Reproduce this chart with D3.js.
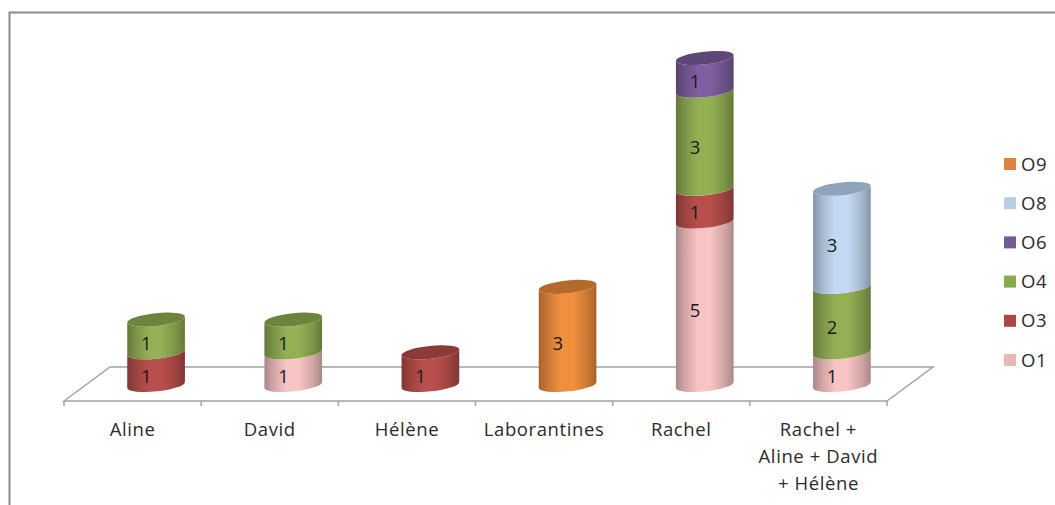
<!DOCTYPE html>
<html>
<head>
<meta charset="utf-8">
<script src="https://cdn.jsdelivr.net/npm/d3@7"></script>
<style>
  html, body { margin: 0; padding: 0; background: #fff; overflow: hidden; }
  text { font-family: "Open Sans", sans-serif; letter-spacing: 0.6px; }
</style>
</head>
<body>
<div id="container"></div>
<script>
/* DATA */
const categories = ["Aline", "David", "Hélène", "Laborantines", "Rachel", "Rachel + Aline + David + Hélène"]
const categoryLines = [["Aline"], ["David"], ["Hélène"], ["Laborantines"], ["Rachel"], ["Rachel +", "Aline + David", "+ Hélène"]]
const seriesNames = ["O1", "O3", "O4", "O6", "O8", "O9"]
const o1 = [0, 1, 0, 0, 5, 1]
const o3 = [1, 0, 1, 0, 1, 0]
const o4 = [1, 1, 0, 0, 3, 2]
const o6 = [0, 0, 0, 0, 1, 0]
const o8 = [0, 0, 0, 0, 0, 3]
const o9 = [0, 0, 0, 3, 0, 0]
const seriesValues = [o1, o3, o4, o6, o8, o9]
const sideColors = ["#f8c4c4", "#b94f4c", "#93b055", "#7f5f9f", "#c3d9f3", "#f0903f"]
const topColors = ["#c09a9a", "#8b3a38", "#6c853c", "#5e4678", "#8fa3ba", "#b56a2b"]
const legendColors = ["#e6b9b8", "#aa4643", "#8aa84e", "#745a96", "#b7cde6", "#dd8240"]

/* CONSTANTS */
const width = 1055,
  height = 505,
  floor = { left: 64, right: 887, front: 401, back: 367, depth: 46 },
  cyl = { rx: 29, ry: 6.4, tilt: -6 },
  textColor = "#2b2b2b"

const table = categories.map((c, i) => {
  const row = { category: c }
  seriesNames.forEach((s, j) => row[s] = seriesValues[j][i])
  return row
})
const stacked = d3.stack().keys(seriesNames)(table)

/* SCALES */
const xScale = d3.scaleBand()
  .domain(categories)
  .range([floor.left, floor.right])

const yScale = d3.scaleLinear()
  .domain([0, 10])
  .range([385, 58])

const legendScale = d3.scalePoint()
  .domain(seriesNames.slice().reverse())
  .range([164, 360])

const svg = d3.select("#container")
  .append("svg")
  .attr("width", width)
  .attr("height", height)
  .style("display", "block")

// chart border, only top and left show in the crop
svg.append("path")
  .attr("d", `M9.5,${height}V12.5H${width}`)
  .attr("fill", "none")
  .attr("stroke", "#8a8a8a")
  .attr("stroke-width", 2)

/* GRADIENTS */
const defs = svg.append("defs")
seriesNames.forEach((s, i) => {
  const base = d3.color(sideColors[i])
  const edge = base.darker(1.05)
  const grad = defs.append("linearGradient").attr("id", "side-" + s)
  const stops = [[0, edge], [0.15, base.darker(0.5)], [0.38, base], [0.6, base], [0.85, base.darker(0.5)], [1, edge]]
  stops.forEach(d => grad.append("stop").attr("offset", d[0]).attr("stop-color", d[1]))
})

/* FLOOR */
svg.append("path")
  .attr("d", `M${floor.left},${floor.front}L${floor.left + floor.depth},${floor.back}H${floor.right + floor.depth}L${floor.right},${floor.front}Z`)
  .attr("fill", "none")
  .attr("stroke", "#a3a3a3")
  .attr("stroke-width", 1.5)

const tickEdges = categories.map(c => xScale(c)).concat(floor.right)
svg.selectAll(".edge-tick")
  .data(tickEdges)
  .join("line")
  .attr("class", "edge-tick")
  .attr("x1", d => d)
  .attr("x2", d => d)
  .attr("y1", floor.front)
  .attr("y2", floor.front + 5)
  .attr("stroke", "#a3a3a3")
  .attr("stroke-width", 1.5)

/* CATEGORY LABELS */
const xAxis = d3.axisBottom(xScale).tickSize(0).tickPadding(0)
const axisG = svg.append("g")
  .attr("transform", `translate(0,${floor.front})`)
  .call(xAxis)
axisG.select(".domain").remove()
axisG.selectAll(".tick text").each(function (d, i) {
  const t = d3.select(this).text(null).attr("y", 0).attr("dy", null)
    .attr("font-size", 18.5)
    .attr("font-family", '"Open Sans", sans-serif')
    .attr("fill", textColor)
  categoryLines[i].forEach((line, k) => {
    t.append("tspan").attr("x", 0).attr("y", 35 + k * 27).text(line)
  })
})

/* CYLINDERS */
const rad = cyl.tilt * Math.PI / 180
const dx = cyl.rx * Math.cos(rad), dy = cyl.rx * Math.sin(rad)
const centerX = d => xScale(d.data.category) + xScale.bandwidth() / 2 + floor.depth / 2 + 0.5
const arc = (sweep, x, y) => `A${cyl.rx},${cyl.ry} ${cyl.tilt} 0 ${sweep} ${x},${y}`

function sidePath(d) {
  const cx = centerX(d), y0 = yScale(d[0]), y1 = yScale(d[1])
  return `M${cx - dx},${y1 - dy}` + arc(0, cx + dx, y1 + dy) +
    `L${cx + dx},${y0 + dy}` + arc(1, cx - dx, y0 - dy) + "Z"
}

const layers = svg.selectAll(".layer")
  .data(stacked)
  .join("g")
  .attr("class", "layer")

layers.selectAll(".side")
  .data(s => s.filter(d => d[1] > d[0]).map(d => Object.assign(d, { key: s.key })))
  .join("path")
  .attr("class", "side")
  .attr("d", sidePath)
  .attr("fill", d => `url(#side-${d.key})`)

// top cap only on the last segment of each column
const caps = []
stacked.forEach((s, i) => s.forEach(d => {
  if (d[1] > d[0] && d[1] === d3.sum(seriesValues, v => v[categories.indexOf(d.data.category)])) caps.push({ d, i })
}))
svg.selectAll(".cap")
  .data(caps)
  .join("ellipse")
  .attr("class", "cap")
  .attr("rx", cyl.rx)
  .attr("ry", cyl.ry)
  .attr("transform", c => `translate(${centerX(c.d)},${yScale(c.d[1])}) rotate(${cyl.tilt})`)
  .attr("fill", c => topColors[c.i])

/* VALUE LABELS */
const valueLabels = stacked.flatMap(s => s.filter(d => d[1] > d[0]))
svg.selectAll(".value")
  .data(valueLabels)
  .join("text")
  .attr("class", "value")
  .attr("x", d => centerX(d) - 9.5)
  .attr("y", d => yScale((d[0] + d[1]) / 2) + 14)
  .attr("text-anchor", "middle")
  .attr("font-size", 18.5)
  .attr("fill", "#1a1a1a")
  .text(d => d[1] - d[0])

/* LEGEND */
const legend = svg.selectAll(".legend")
  .data(seriesNames.slice().reverse())
  .join("g")
  .attr("class", "legend")
  .attr("transform", d => `translate(1004,${legendScale(d)})`)

legend.append("rect")
  .attr("y", -6)
  .attr("width", 12)
  .attr("height", 12)
  .attr("fill", d => legendColors[seriesNames.indexOf(d)])

legend.append("text")
  .attr("x", 17)
  .attr("y", 6.5)
  .attr("font-size", 18.5)
  .attr("fill", textColor)
  .text(d => d)
</script>
</body>
</html>
